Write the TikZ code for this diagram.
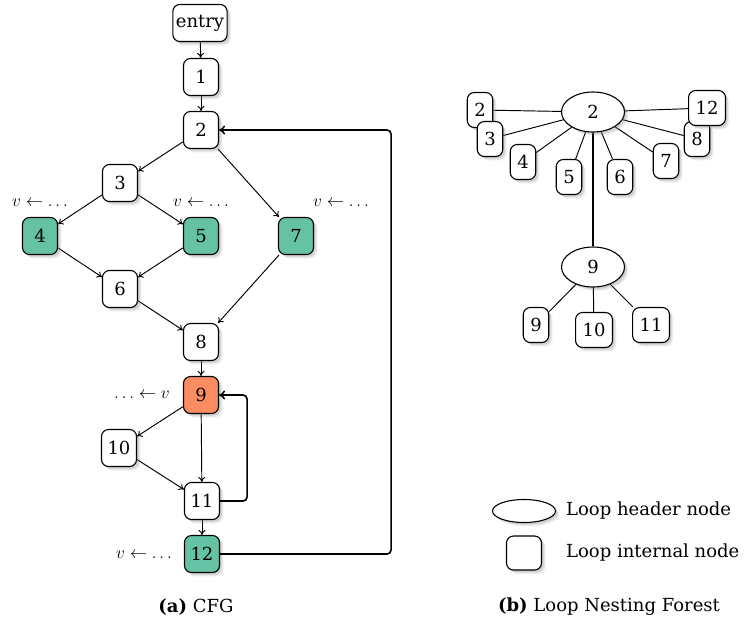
\documentclass[tikz,border=0pt]{standalone}
\usepackage{fontspec}
\setmainfont{DejaVu Serif}
\usetikzlibrary{arrows.meta,shapes.geometric,shadows,backgrounds}
\definecolor{tealnode}{HTML}{66C2A5}
\definecolor{orangenode}{HTML}{FC8D62}
\tikzset{
  every node/.style={font=\fontsize{18}{22}\selectfont},
  shad/.style={
    drop shadow={opacity=0.10, shadow xshift=4pt, shadow yshift=-4pt},
    drop shadow={opacity=0.14, shadow xshift=3pt, shadow yshift=-3pt},
    drop shadow={opacity=0.18, shadow xshift=2pt, shadow yshift=-2pt}},
  cfg/.style={draw, rounded corners=7pt, fill=white, minimum width=35pt, minimum height=37pt,
    inner sep=3pt, line width=1.1pt, shad},
  leaf/.style={draw, rounded corners=7pt, fill=white, inner xsep=7pt, inner ysep=2pt,
    minimum height=35pt, line width=1.1pt, shad},
  hdr/.style={draw, ellipse, fill=white, minimum width=63pt, minimum height=40pt,
    inner sep=0pt, line width=1.1pt, shad},
  lbl/.style={inner sep=0pt},
  edge/.style={-{To[length=5pt,width=7pt]}, line width=0.95pt},
  backedge/.style={-{To[length=6pt,width=9pt]}, line width=1.6pt, rounded corners=4pt},
  tline/.style={line width=0.95pt},
  thickline/.style={line width=1.7pt},
}
\begin{document}
\begin{tikzpicture}[x=1pt,y=-1pt]
\useasboundingbox (0,0) rectangle (751,624);
% ---------- CFG ----------
\node[cfg] (entry) at (200,23) {entry};
\node[cfg] (n1) at (201,77) {1};
\node[cfg] (n2) at (201,130) {2};
\node[cfg] (n3) at (120,183) {3};
\node[cfg, fill=tealnode] (n4) at (40,236) {4};
\node[cfg, fill=tealnode] (n5) at (201,236) {5};
\node[cfg, fill=tealnode] (n7) at (296,236) {7};
\node[cfg] (n6) at (120,289) {6};
\node[cfg] (n8) at (201,342) {8};
\node[cfg, fill=orangenode] (n9) at (201,395) {9};
\node[cfg] (n10) at (119,448) {10};
\node[cfg] (n11) at (202,501) {11};
\node[cfg, fill=tealnode] (n12) at (202,554) {12};

\node[lbl] (l4) at (40,203) {$v\leftarrow\dots$};
\node[lbl] (l5) at (201,203) {$v\leftarrow\dots$};
\node[lbl] (l7) at (341,203) {$v\leftarrow\dots$};
\node[lbl] (l9) at (142,395) {$\dots\leftarrow v$};
\node[lbl] (l12) at (144,555) {$v\leftarrow\dots$};

\begin{scope}[on background layer]
\draw[edge] (entry) -- (n1);
\draw[edge] (n1) -- (n2);
\draw[edge] (n2) -- (n3);
\draw[edge] (n2) -- (n7);
\draw[edge] (n3) -- (n4);
\draw[edge] (n3) -- (n5);
\draw[edge] (n4) -- (n6);
\draw[edge] (n5) -- (n6);
\draw[edge] (n6) -- (n8);
\draw[edge] (n7) -- (n8);
\draw[edge] (n8) -- (n9);
\draw[edge] (n9) -- (n10);
\draw[edge] (n9) -- (n11);
\draw[edge] (n10) -- (n11);
\draw[edge] (n11) -- (n12);
\end{scope}
\draw[backedge] (n11.east) -- ++(27,0) |- (n9.east);
\draw[backedge] (n12.east) -- ++(171,0) |- (n2.east);

% ---------- Loop nesting forest ----------
\node[hdr] (h2) at (593,112) {2};
\node[hdr] (h9) at (593,267) {9};
\node[leaf] (f2) at (480,110) {2};
\node[leaf] (f3) at (490,139) {3};
\node[leaf] (f4) at (523,162) {4};
\node[leaf] (f5) at (569,177) {5};
\node[leaf] (f6) at (620,177) {6};
\node[leaf] (f7) at (666,161) {7};
\node[leaf] (f8) at (697,139) {8};
\node[leaf] (f12) at (707,108) {12};
\node[leaf] (g9) at (536,325) {9};
\node[leaf] (g10) at (594,330) {10};
\node[leaf] (g11) at (651,325) {11};

\begin{scope}[on background layer]
\foreach \t in {f2,f3,f4,f5,f6,f7,f8,f12} \draw[tline] (h2) -- (\t);
\draw[thickline] (h2) -- (h9);
\foreach \t in {g9,g10,g11} \draw[tline] (h9) -- (\t);
\end{scope}

% ---------- legend ----------
\node[hdr, minimum height=23pt] (lh) at (524,511) {};
\node[leaf, minimum width=35pt, minimum height=34pt] (li) at (524,553) {};
\node[lbl, anchor=west] (lht) at (566,511) {Loop header node};
\node[lbl, anchor=west] (lit) at (566,553) {Loop internal node};

% ---------- captions ----------
\node[lbl] (capa) at (196,607) {\textbf{(a)} CFG};
\node[lbl] (capb) at (609,607) {\textbf{(b)} Loop Nesting Forest};
\end{tikzpicture}
\end{document}
